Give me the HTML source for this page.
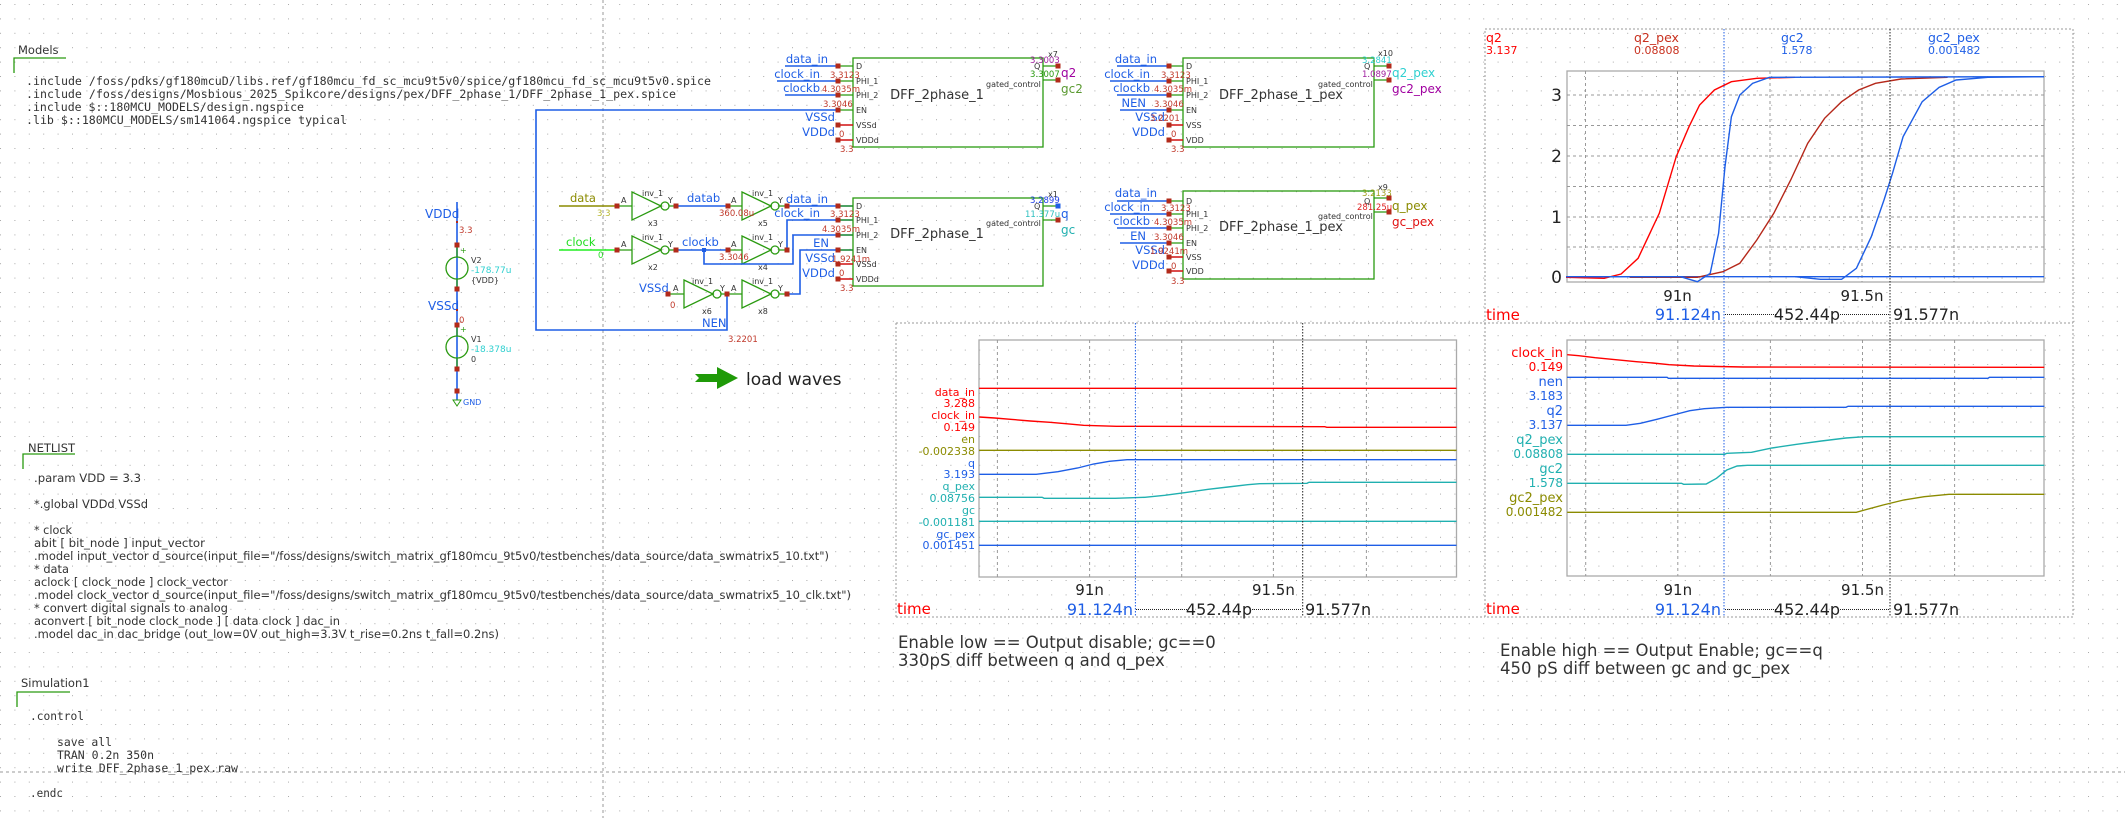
<!DOCTYPE html>
<html><head><meta charset="utf-8"><style>
html,body{margin:0;padding:0;background:#fff;}
svg{display:block;font-family:"DejaVu Sans","Liberation Sans",sans-serif;}
.m{font-family:"DejaVu Sans Mono","Liberation Mono",monospace;fill:#333;font-size:11.5px;}
.n{fill:#333;font-size:11.5px;}
.bl{fill:#1e5ee6;}
.rv{fill:#c0392b;font-size:8.5px;}
.pn{fill:#333;font-size:8px;}
.w{stroke:#1e5ee6;stroke-width:1.6;fill:none;}
.g{stroke:#2a9a10;stroke-width:1.3;fill:none;}
.gd{stroke:#999;stroke-width:1;stroke-dasharray:3,3;fill:none;}
.pd{stroke:#999;stroke-width:1;stroke-dasharray:2,2;fill:none;}
.tr{fill:none;stroke-width:1.4;}
</style></head><body>
<svg width="2125" height="818" viewBox="0 0 2125 818" xmlns="http://www.w3.org/2000/svg">
<defs>
<pattern id="dots" x="0" y="4" width="14.4" height="14.4" patternUnits="userSpaceOnUse">
<rect x="0" y="0" width="1" height="1" fill="#aaa"/></pattern>
<g id="rp"><rect x="-2.5" y="-2.5" width="5" height="5" fill="#b22a1a"/></g>
</defs>
<rect width="2125" height="818" fill="url(#dots)"/>
<line x1="603" y1="0" x2="603" y2="818" class="gd"/>
<line x1="0" y1="772" x2="2125" y2="772" class="gd"/>

<!-- Models -->
<text x="18" y="54" class="n">Models</text>
<path d="M14 73 V58 H66" class="g"/>
<text x="26" y="85" class="m" textLength="685" lengthAdjust="spacingAndGlyphs">.include /foss/pdks/gf180mcuD/libs.ref/gf180mcu_fd_sc_mcu9t5v0/spice/gf180mcu_fd_sc_mcu9t5v0.spice</text>
<text x="26" y="98" class="m" textLength="650" lengthAdjust="spacingAndGlyphs">.include /foss/designs/Mosbious_2025_Spikcore/designs/pex/DFF_2phase_1/DFF_2phase_1_pex.spice</text>
<text x="26" y="111" class="m" textLength="278" lengthAdjust="spacingAndGlyphs">.include $::180MCU_MODELS/design.ngspice</text>
<text x="26" y="124" class="m" textLength="321" lengthAdjust="spacingAndGlyphs">.lib $::180MCU_MODELS/sm141064.ngspice typical</text>

<!-- NETLIST -->
<text x="28" y="452" class="n">NETLIST</text>
<path d="M23 469 V454 H75" class="g"/>
<g class="n">
<text x="34" y="482" textLength="107" lengthAdjust="spacingAndGlyphs">.param VDD = 3.3</text>
<text x="34" y="508" textLength="114" lengthAdjust="spacingAndGlyphs">*.global VDDd VSSd</text>
<text x="34" y="534" textLength="38" lengthAdjust="spacingAndGlyphs">* clock</text>
<text x="34" y="547" textLength="171" lengthAdjust="spacingAndGlyphs">abit [ bit_node ]  input_vector</text>
<text x="34" y="560" textLength="795" lengthAdjust="spacingAndGlyphs">.model input_vector d_source(input_file="/foss/designs/switch_matrix_gf180mcu_9t5v0/testbenches/data_source/data_swmatrix5_10.txt")</text>
<text x="34" y="573" textLength="35" lengthAdjust="spacingAndGlyphs">* data</text>
<text x="34" y="586" textLength="194" lengthAdjust="spacingAndGlyphs">aclock [ clock_node ] clock_vector</text>
<text x="34" y="599" textLength="817" lengthAdjust="spacingAndGlyphs">.model clock_vector d_source(input_file="/foss/designs/switch_matrix_gf180mcu_9t5v0/testbenches/data_source/data_swmatrix5_10_clk.txt")</text>
<text x="34" y="612" textLength="194" lengthAdjust="spacingAndGlyphs">* convert digital signals to analog</text>
<text x="34" y="625" textLength="306" lengthAdjust="spacingAndGlyphs">aconvert [ bit_node clock_node ] [ data clock ] dac_in</text>
<text x="34" y="638" textLength="465" lengthAdjust="spacingAndGlyphs">.model dac_in dac_bridge (out_low=0V out_high=3.3V t_rise=0.2ns t_fall=0.2ns)</text>
</g>

<!-- Simulation1 -->
<text x="21" y="687" class="n">Simulation1</text>
<path d="M17 707 V692 H70" class="g"/>
<text x="30" y="720" class="m" textLength="54" lengthAdjust="spacingAndGlyphs">.control</text>
<text x="57" y="746" class="m" textLength="55" lengthAdjust="spacingAndGlyphs">save all</text>
<text x="57" y="759" class="m" textLength="97" lengthAdjust="spacingAndGlyphs">TRAN 0.2n 350n</text>
<text x="57" y="772" class="m" textLength="181" lengthAdjust="spacingAndGlyphs">write DFF_2phase_1_pex.raw</text>
<text x="30" y="797" class="m" textLength="33" lengthAdjust="spacingAndGlyphs">.endc</text>

<!-- Voltage sources -->
<line x1="457" y1="202" x2="457" y2="400" class="w" stroke-width="1.3"/>
<text x="425" y="218" class="bl" font-size="12">VDDd</text>
<text x="459" y="233" class="rv">3.3</text>
<circle cx="457" cy="268" r="11" fill="#fff" class="g"/>
<line x1="457" y1="246" x2="457" y2="257" class="g"/><line x1="457" y1="279" x2="457" y2="289" class="g"/>
<text x="460" y="253" fill="#2a9a10" font-size="8">+</text>
<text x="471" y="263" class="pn" font-size="9">V2</text>
<text x="471" y="273" fill="#2fd0d0" font-size="9">-178.77u</text>
<text x="471" y="283" class="pn" font-size="9">{VDD}</text>
<text x="428" y="310" class="bl" font-size="12">VSSd</text>
<text x="459" y="323" class="rv">0</text>
<circle cx="457" cy="347" r="11" fill="#fff" class="g"/>
<line x1="457" y1="325" x2="457" y2="336" class="g"/><line x1="457" y1="358" x2="457" y2="369" class="g"/>
<text x="460" y="332" fill="#2a9a10" font-size="8">+</text>
<text x="471" y="342" class="pn" font-size="9">V1</text>
<text x="471" y="352" fill="#2fd0d0" font-size="9">-18.378u</text>
<text x="471" y="362" class="pn" font-size="9">0</text>
<use href="#rp" x="457" y="245"/><use href="#rp" x="457" y="289"/><use href="#rp" x="457" y="325"/><use href="#rp" x="457" y="369"/><use href="#rp" x="457" y="391"/>
<rect x="456" y="221" width="2" height="2" fill="#b22a1a"/><rect x="456" y="309" width="2" height="2" fill="#b22a1a"/>
<path d="M453 400 L461 400 L457 406 Z" fill="none" stroke="#2a9a10"/>
<text x="463" y="405" class="bl" font-size="8">GND</text>

<!-- Big NEN/EN loop wire -->
<path d="M838 110 H536 V330 H727 V294" class="w"/>
<text x="702" y="327" class="bl" font-size="11.5">NEN</text>
<text x="728" y="342" class="rv">3.2201</text>

<!-- input wires -->
<line x1="559" y1="206" x2="617" y2="206" stroke="#8b8b00" stroke-width="1.6"/>
<text x="570" y="202" fill="#8b8b00" font-size="11.5">data</text>
<text x="597" y="216" fill="#b8b830" font-size="8.5">3.3</text>
<line x1="559" y1="250" x2="617" y2="250" stroke="#22ee22" stroke-width="1.6"/>
<text x="566" y="246" fill="#22dd22" font-size="11.5">clock</text>
<text x="598" y="258" fill="#22dd22" font-size="8.5">0</text>

<g class="g" fill="#fff">
<path d="M617 206 H632 M632 192 L661 206 L632 220 Z M669 206 H676"/><circle cx="665" cy="206" r="4"/>
<path d="M728 206 H742 M742 192 L771 206 L742 220 Z M779 206 H787"/><circle cx="775" cy="206" r="4"/>
<path d="M617 250 H632 M632 236 L661 250 L632 264 Z M669 250 H676"/><circle cx="665" cy="250" r="4"/>
<path d="M728 250 H742 M742 236 L771 250 L742 264 Z M779 250 H787"/><circle cx="775" cy="250" r="4"/>
<path d="M668 294 H684 M684 280 L713 294 L684 308 Z M721 294 H727"/><circle cx="717" cy="294" r="4"/>
<path d="M727 294 H742 M742 280 L771 294 L742 308 Z M779 294 H787"/><circle cx="775" cy="294" r="4"/>
</g>
<g class="pn">
<text x="642" y="196">inv_1</text><text x="752" y="196">inv_1</text>
<text x="642" y="240">inv_1</text><text x="752" y="240">inv_1</text>
<text x="692" y="284">inv_1</text><text x="752" y="284">inv_1</text>
<text x="648" y="226">x3</text><text x="758" y="226">x5</text>
<text x="648" y="270">x2</text><text x="758" y="270">x4</text>
<text x="702" y="314">x6</text><text x="758" y="314">x8</text>
<text x="621" y="203">A</text><text x="668" y="203">Y</text><text x="731" y="203">A</text><text x="778" y="203">Y</text>
<text x="621" y="247">A</text><text x="668" y="247">Y</text><text x="731" y="247">A</text><text x="778" y="247">Y</text>
<text x="673" y="291">A</text><text x="720" y="291">Y</text><text x="731" y="291">A</text><text x="778" y="291">Y</text>
</g>
<path d="M676 206 H728 M787 206 H853 M676 250 H728 M704 250 V264 H793 V235 H853 M787 250 V220 H853 M787 294 H800 V250 H853" class="w"/>
<rect x="702" y="248" width="4" height="4" fill="#1e5ee6"/>
<text x="687" y="202" class="bl" font-size="11.5">datab</text>
<text x="719" y="216" class="rv">360.08u</text>
<text x="682" y="246" class="bl" font-size="11.5">clockb</text>
<text x="719" y="260" class="rv">3.3046</text>
<text x="639" y="292" class="bl" font-size="11.5">VSSd</text>
<text x="670" y="308" class="rv">0</text>
<use href="#rp" x="617" y="206"/><use href="#rp" x="676" y="206"/><use href="#rp" x="728" y="206"/><use href="#rp" x="787" y="206"/>
<use href="#rp" x="617" y="250"/><use href="#rp" x="676" y="250"/><use href="#rp" x="728" y="250"/><use href="#rp" x="787" y="250"/>
<use href="#rp" x="668" y="294"/><use href="#rp" x="727" y="294"/><use href="#rp" x="787" y="294"/>

<!-- DFF x7 (top) -->
<rect x="853" y="58" width="190" height="89" class="g"/>
<path d="M785 66 H838 M777 81 H838 M785 95 H838" class="w"/>
<path d="M838 66 H853 M838 81 H853 M838 95 H853 M838 110 H853" class="g"/>
<path d="M838 125 H853 M838 140 H853" stroke="#d01010" stroke-width="1.5"/>
<use href="#rp" x="838" y="66"/><use href="#rp" x="838" y="81"/><use href="#rp" x="838" y="95"/><use href="#rp" x="838" y="110"/><use href="#rp" x="838" y="125"/><use href="#rp" x="838" y="140"/>
<g class="bl" font-size="11.5" text-anchor="end"><text x="828" y="63">data_in</text><text x="820" y="78">clock_in</text><text x="820" y="92">clockb</text><text x="835" y="121">VSSd</text><text x="835" y="136">VDDd</text></g>
<g class="rv"><text x="830" y="78">3.3123</text><text x="822" y="92">4.3035m</text><text x="823" y="107">3.3046</text><text x="839" y="137">0</text><text x="840" y="152">3.3</text></g>
<g class="pn"><text x="856" y="69">D</text><text x="856" y="84">PHI_1</text><text x="856" y="98">PHI_2</text><text x="856" y="113">EN</text><text x="856" y="128">VSSd</text><text x="856" y="143">VDDd</text><text x="1034" y="69">Q</text><text x="986" y="87">gated_control</text></g>
<text x="937" y="99" text-anchor="middle" fill="#333" font-size="13">DFF_2phase_1</text>
<path d="M1043 66 H1058 M1043 80 H1058" class="g"/>
<use href="#rp" x="1058" y="66"/><use href="#rp" x="1058" y="80"/>
<text x="1048" y="57" class="pn">x7</text>
<text x="1030" y="63" fill="#a020a0" font-size="8.5">3.3003</text>
<text x="1030" y="77" fill="#2a9a10" font-size="8.5">3.3007</text>
<text x="1061" y="77" fill="#a000a0" font-size="12">q2</text>
<text x="1061" y="93" fill="#5a9a30" font-size="12">gc2</text>

<!-- DFF x10 pex (top) -->
<rect x="1183" y="58" width="191" height="89" class="g"/>
<path d="M1117 66 H1169 M1110 81 H1169 M1117 95 H1169 M1120 110 H1169" class="w"/>
<path d="M1169 66 H1183 M1169 81 H1183 M1169 95 H1183 M1169 110 H1183" class="g"/>
<path d="M1169 125 H1183 M1169 140 H1183" stroke="#d01010" stroke-width="1.5"/>
<use href="#rp" x="1169" y="66"/><use href="#rp" x="1169" y="81"/><use href="#rp" x="1169" y="95"/><use href="#rp" x="1169" y="110"/><use href="#rp" x="1169" y="125"/><use href="#rp" x="1169" y="140"/>
<g class="bl" font-size="11.5" text-anchor="end"><text x="1157" y="63">data_in</text><text x="1150" y="78">clock_in</text><text x="1150" y="92">clockb</text><text x="1146" y="107">NEN</text><text x="1165" y="121">VSSd</text><text x="1165" y="136">VDDd</text></g>
<g class="rv"><text x="1161" y="78">3.3123</text><text x="1154" y="92">4.3035m</text><text x="1154" y="107">3.3046</text><text x="1150" y="121">3.2201</text><text x="1171" y="137">0</text><text x="1171" y="152">3.3</text></g>
<g class="pn"><text x="1186" y="69">D</text><text x="1186" y="84">PHI_1</text><text x="1186" y="98">PHI_2</text><text x="1186" y="113">EN</text><text x="1186" y="128">VSS</text><text x="1186" y="143">VDD</text><text x="1364" y="69">Q</text><text x="1318" y="87">gated_control</text></g>
<text x="1281" y="99" text-anchor="middle" fill="#333" font-size="13">DFF_2phase_1_pex</text>
<path d="M1374 66 H1389 M1374 80 H1389" class="g"/>
<use href="#rp" x="1389" y="66"/><use href="#rp" x="1389" y="80"/>
<text x="1378" y="56" class="pn">x10</text>
<text x="1362" y="63" fill="#2fd0d0" font-size="8.5">3.2841</text>
<text x="1362" y="77" fill="#a020a0" font-size="8.5">1.0897</text>
<text x="1392" y="77" fill="#2fd0d0" font-size="12">q2_pex</text>
<text x="1392" y="93" fill="#a000a0" font-size="12">gc2_pex</text>

<!-- DFF x1 (bottom) -->
<rect x="853" y="198" width="190" height="88" class="g"/>
<path d="M838 206 H853 M838 220 H853 M838 235 H853 M838 250 H853" class="g"/>
<path d="M838 264 H853 M838 279 H853" stroke="#d01010" stroke-width="1.5"/>
<use href="#rp" x="838" y="206"/><use href="#rp" x="838" y="220"/><use href="#rp" x="838" y="235"/><use href="#rp" x="838" y="250"/><use href="#rp" x="838" y="264"/><use href="#rp" x="838" y="279"/>
<g class="bl" font-size="11.5" text-anchor="end"><text x="828" y="203">data_in</text><text x="820" y="217">clock_in</text><text x="829" y="247">EN</text><text x="835" y="262">VSSd</text><text x="835" y="277">VDDd</text></g>
<g class="rv"><text x="830" y="217">3.3123</text><text x="822" y="232">4.3035m</text><text x="832" y="262">1.9241m</text><text x="839" y="276">0</text><text x="840" y="291">3.3</text></g>
<g class="pn"><text x="856" y="209">D</text><text x="856" y="223">PHI_1</text><text x="856" y="238">PHI_2</text><text x="856" y="253">EN</text><text x="856" y="267">VSSd</text><text x="856" y="282">VDDd</text><text x="1034" y="209">Q</text><text x="986" y="226">gated_control</text></g>
<text x="937" y="238" text-anchor="middle" fill="#333" font-size="13">DFF_2phase_1</text>
<path d="M1043 206 H1058 M1043 220 H1058" class="g"/>
<rect x="1055.5" y="203.5" width="5" height="5" fill="#1e5ee6"/><use href="#rp" x="1058" y="220"/>
<text x="1048" y="197" class="pn">x1</text>
<text x="1030" y="203" fill="#1e3ee6" font-size="8.5">3.2899</text>
<text x="1025" y="217" fill="#2fc0c0" font-size="8.5">11.377u</text>
<text x="1061" y="218" fill="#1e5ee6" font-size="12">q</text>
<text x="1061" y="234" fill="#20b0b0" font-size="12">gc</text>

<!-- DFF x9 pex (bottom) -->
<rect x="1183" y="191" width="191" height="88" class="g"/>
<path d="M1117 201 H1169 M1110 214 H1169 M1117 228 H1169 M1120 243 H1169" class="w"/>
<path d="M1169 201 H1183 M1169 214 H1183 M1169 228 H1183 M1169 243 H1183" class="g"/>
<path d="M1169 257 H1183 M1169 271 H1183" stroke="#d01010" stroke-width="1.5"/>
<use href="#rp" x="1169" y="201"/><use href="#rp" x="1169" y="214"/><use href="#rp" x="1169" y="228"/><use href="#rp" x="1169" y="243"/><use href="#rp" x="1169" y="257"/><use href="#rp" x="1169" y="271"/>
<g class="bl" font-size="11.5" text-anchor="end"><text x="1157" y="197">data_in</text><text x="1150" y="211">clock_in</text><text x="1150" y="225">clockb</text><text x="1146" y="240">EN</text><text x="1165" y="254">VSSd</text><text x="1165" y="269">VDDd</text></g>
<g class="rv"><text x="1161" y="211">3.3123</text><text x="1154" y="225">4.3035m</text><text x="1154" y="240">3.3046</text><text x="1150" y="254">1.9241m</text><text x="1171" y="269">0</text><text x="1171" y="284">3.3</text></g>
<g class="pn"><text x="1186" y="204">D</text><text x="1186" y="217">PHI_1</text><text x="1186" y="231">PHI_2</text><text x="1186" y="246">EN</text><text x="1186" y="260">VSS</text><text x="1186" y="274">VDD</text><text x="1364" y="204">Q</text><text x="1318" y="219">gated_control</text></g>
<text x="1281" y="231" text-anchor="middle" fill="#333" font-size="13">DFF_2phase_1_pex</text>
<path d="M1374 198 H1389 M1374 212 H1389" class="g"/>
<use href="#rp" x="1389" y="198"/><use href="#rp" x="1389" y="212"/>
<text x="1378" y="190" class="pn">x9</text>
<text x="1362" y="196" fill="#a0a020" font-size="8.5">3.2133</text>
<text x="1357" y="210" fill="#e02020" font-size="8.5">281.25u</text>
<text x="1392" y="210" fill="#8b8b00" font-size="12">q_pex</text>
<text x="1392" y="226" fill="#e01010" font-size="12">gc_pex</text>

<!-- load waves -->
<path d="M695 374 H717 V367 L738 378 L717 389 V382 H695 L699 378 Z" fill="#1f9a08"/>
<text x="746" y="385" fill="#222" font-size="17">load waves</text>

<!-- ===== Top-right waveform panel ===== -->
<rect x="1485" y="29" width="588" height="588" class="pd"/>
<line x1="896" y1="323" x2="2073" y2="323" class="pd"/>
<line x1="896" y1="323" x2="896" y2="617" class="pd"/>
<line x1="896" y1="617" x2="1485" y2="617" class="pd"/>
<g font-size="12.5">
<text x="1486" y="42" fill="#f00">q2</text><text x="1486" y="54" fill="#f00" font-size="11">3.137</text>
<text x="1634" y="42" fill="#c8301e">q2_pex</text><text x="1634" y="54" fill="#c8301e" font-size="11">0.08808</text>
<text x="1781" y="42" fill="#1e5ee6">gc2</text><text x="1781" y="54" fill="#1e5ee6" font-size="11">1.578</text>
<text x="1928" y="42" fill="#1e5ee6">gc2_pex</text><text x="1928" y="54" fill="#1e5ee6" font-size="11">0.001482</text>
</g>
<rect x="1567" y="71" width="477" height="211" fill="none" stroke="#aaa" stroke-width="1.3"/>
<g class="gd" stroke="#aaa">
<path d="M1567 95 H2044 M1567 125.5 H2044 M1567 156 H2044 M1567 186.5 H2044 M1567 217 H2044 M1567 247 H2044"/>
<path d="M1585.5 71 V282 M1677.5 71 V282 M1770 71 V282 M1862 71 V282 M1954 71 V282"/>
</g>
<g font-size="17" fill="#222" text-anchor="end"><text x="1562" y="101">3</text><text x="1562" y="162">2</text><text x="1562" y="223">1</text><text x="1562" y="283">0</text></g>
<line x1="1567" y1="276.7" x2="2044" y2="276.7" stroke="#1e5ee6" stroke-width="1.4"/>
<polyline class="tr" stroke="#ff0000" points="1566,277.3 1604.2,278.3 1621.1,274 1638.1,258.3 1659.3,213.3 1676.2,156.7 1689,126.7 1699.6,105 1714.4,90 1731.4,81.7 1756.8,78.3 1795,77.3"/>
<polyline class="tr" stroke="#b5281a" points="1629.6,277.3 1697.4,277.3 1722.9,271.7 1739.8,263.3 1756.8,240 1773.8,213.3 1790.7,180 1807.7,143.3 1824.6,118.3 1841.6,101.7 1858.6,90 1875.5,83.3 1901,79 1947.6,77.3"/>
<polyline class="tr" stroke="#1e5ee6" points="1566,276.7 1680.5,276.7 1697.4,281.7 1710.2,273.3 1718.6,233.3 1725,166.7 1731.4,116.7 1739.8,95 1752.6,83.3 1769.5,77.3 2044,76.7"/>
<polyline class="tr" stroke="#1e5ee6" points="1795,276.7 1820.4,279.3 1841.6,279.3 1856.4,268.3 1871.3,236.7 1884,200 1892.5,173.3 1903.1,136.7 1922.2,101.7 1939.1,87.3 1956.1,80 1987.9,77.3 2044,76.7"/>
<line x1="1724" y1="29" x2="1724" y2="617" stroke="#1e5ee6" stroke-width="1" stroke-dasharray="1.5,1.5"/>
<line x1="1890" y1="29" x2="1890" y2="617" stroke="#222" stroke-width="1" stroke-dasharray="1.5,1.5"/>
<g font-size="15" fill="#222" text-anchor="middle"><text x="1677.5" y="301">91n</text><text x="1862" y="301">91.5n</text></g>
<text x="1486" y="320" fill="#f00" font-size="15">time</text>
<text x="1721" y="320" fill="#1e5ee6" font-size="16" text-anchor="end">91.124n</text>
<text x="1807" y="320" fill="#222" font-size="16" text-anchor="middle">452.44p</text>
<text x="1893" y="320" fill="#222" font-size="16">91.577n</text>
<path d="M1725 314.5 H1777 M1838 314.5 H1889" stroke="#222" stroke-dasharray="1,1"/>

<!-- ===== Bottom-left panel ===== -->
<rect x="979" y="340" width="477.5" height="237" fill="none" stroke="#aaa" stroke-width="1.3"/>
<g class="gd" stroke="#aaa"><path d="M997.4 340 V577 M1089.6 340 V577 M1181.7 340 V577 M1273.4 340 V577 M1366.4 340 V577"/></g>
<g font-size="11" text-anchor="end">
<text x="975" y="396" fill="#f00">data_in</text><text x="975" y="407" fill="#f00">3.288</text>
<text x="975" y="419" fill="#f00">clock_in</text><text x="975" y="431" fill="#f00">0.149</text>
<text x="975" y="443" fill="#8b8b00">en</text><text x="975" y="455" fill="#8b8b00">-0.002338</text>
<text x="975" y="467" fill="#1e5ee6">q</text><text x="975" y="478" fill="#1e5ee6">3.193</text>
<text x="975" y="490" fill="#20b0b0">q_pex</text><text x="975" y="502" fill="#20b0b0">0.08756</text>
<text x="975" y="514" fill="#20b0b0">gc</text><text x="975" y="526" fill="#20b0b0">-0.001181</text>
<text x="975" y="538" fill="#1e5ee6">gc_pex</text><text x="975" y="549" fill="#1e5ee6">0.001451</text>
</g>
<line x1="979" y1="388.3" x2="1456.5" y2="388.3" stroke="#f00" stroke-width="1.4"/>
<polyline class="tr" stroke="#f00" points="979.2,417 994.7,418 1010.5,419.3 1030.3,421 1050,422.3 1065.8,423.7 1083.6,425.3 1116.4,426.3 1324.8,426.7 1326.8,427.3 1456.5,427.3"/>
<line x1="979" y1="450.3" x2="1456.5" y2="450.3" stroke="#8b8b00" stroke-width="1.4"/>
<polyline class="tr" stroke="#1e5ee6" points="979.2,474.3 1036.2,474.3 1057.9,471.7 1077.7,468 1093.5,464 1109.3,461.3 1127.1,459.7 1456.5,459.7"/>
<polyline class="tr" stroke="#20b0b0" points="979.2,497.3 1042.1,497.3 1044.1,498.3 1115.3,498.3 1144.9,497.3 1164.7,495.3 1184.5,492.7 1208.2,489.3 1228,487 1247.7,484.7 1259.6,483.7 1307,483.3 1309,482.3 1456.5,482.3"/>
<line x1="979" y1="521.3" x2="1456.5" y2="521.3" stroke="#20b0b0" stroke-width="1.4"/>
<line x1="979" y1="545.3" x2="1456.5" y2="545.3" stroke="#1e5ee6" stroke-width="1.4"/>
<line x1="1135.4" y1="323" x2="1135.4" y2="617" stroke="#1e5ee6" stroke-width="1" stroke-dasharray="1.5,1.5"/>
<line x1="1302.7" y1="323" x2="1302.7" y2="617" stroke="#222" stroke-width="1" stroke-dasharray="1.5,1.5"/>
<g font-size="15" fill="#222" text-anchor="middle"><text x="1089.6" y="595">91n</text><text x="1273.4" y="595">91.5n</text></g>
<text x="897" y="614" fill="#f00" font-size="15">time</text>
<text x="1133" y="615" fill="#1e5ee6" font-size="16" text-anchor="end">91.124n</text>
<text x="1219" y="615" fill="#222" font-size="16" text-anchor="middle">452.44p</text>
<text x="1305" y="615" fill="#222" font-size="16">91.577n</text>
<path d="M1136 609.5 H1188 M1250 609.5 H1302" stroke="#222" stroke-dasharray="1,1"/>
<text x="898" y="648" fill="#333" font-size="16.5">Enable low == Output disable; gc==0</text>
<text x="898" y="666" fill="#333" font-size="16.5">330pS diff between q and q_pex</text>

<!-- ===== Bottom-right panel ===== -->
<rect x="1567" y="340" width="477" height="236" fill="none" stroke="#aaa" stroke-width="1.3"/>
<g class="gd" stroke="#aaa"><path d="M1585.7 340 V576 M1677.8 340 V576 M1770.4 340 V576 M1862.5 340 V576 M1954.6 340 V576"/></g>
<g font-size="13" text-anchor="end">
<text x="1563" y="357" fill="#f00">clock_in</text><text x="1563" y="371" fill="#f00" font-size="12">0.149</text>
<text x="1563" y="386" fill="#1e5ee6">nen</text><text x="1563" y="400" fill="#1e5ee6" font-size="12">3.183</text>
<text x="1563" y="415" fill="#1e5ee6">q2</text><text x="1563" y="429" fill="#1e5ee6" font-size="12">3.137</text>
<text x="1563" y="444" fill="#20b0b0">q2_pex</text><text x="1563" y="458" fill="#20b0b0" font-size="12">0.08808</text>
<text x="1563" y="473" fill="#20b0b0">gc2</text><text x="1563" y="487" fill="#20b0b0" font-size="12">1.578</text>
<text x="1563" y="502" fill="#8b8b00">gc2_pex</text><text x="1563" y="516" fill="#8b8b00" font-size="12">0.001482</text>
</g>
<polyline class="tr" stroke="#f00" points="1567.2,354.7 1578.7,355.7 1595.2,357.7 1615.7,359.7 1636.3,361.7 1652.7,363 1669.2,364.7 1693.9,366 1743.2,367 2044.3,367.3"/>
<polyline class="tr" stroke="#1e5ee6" points="1567,377.3 1667.1,377.3 1668.4,378.3 1988,378.3 1989.4,377.3 2044.3,377.3"/>
<polyline class="tr" stroke="#1e5ee6" points="1567.2,425.3 1626,425.3 1640.4,423.3 1656.9,419.3 1673.3,415 1689.8,410.7 1704.2,408.7 1726.8,407.3 1846,407.3 1848.1,406.3 2044.3,406.3"/>
<polyline class="tr" stroke="#20b0b0" points="1567.2,454.3 1724.7,454.3 1726.8,453.3 1751.5,452.3 1772,448 1796.7,444.3 1821.4,441 1846,438 1864.6,436.7 2044.3,436.7"/>
<polyline class="tr" stroke="#20b0b0" points="1567.2,483.3 1681.5,483.3 1683.6,484.3 1706.2,484 1716.5,478.3 1726.8,470 1737.1,466 1747.3,465.3 2044.3,465.3"/>
<polyline class="tr" stroke="#8b8b00" points="1567.2,512.3 1856.3,512.3 1864.6,510 1883.1,505 1903.6,500 1924.2,496.7 1948.9,494.3 2044.3,494.3"/>
<g font-size="15" fill="#222" text-anchor="middle"><text x="1677.8" y="595">91n</text><text x="1862.5" y="595">91.5n</text></g>
<text x="1486" y="614" fill="#f00" font-size="15">time</text>
<text x="1721" y="615" fill="#1e5ee6" font-size="16" text-anchor="end">91.124n</text>
<text x="1807" y="615" fill="#222" font-size="16" text-anchor="middle">452.44p</text>
<text x="1893" y="615" fill="#222" font-size="16">91.577n</text>
<path d="M1725 609.5 H1777 M1838 609.5 H1889" stroke="#222" stroke-dasharray="1,1"/>
<text x="1500" y="656" fill="#333" font-size="16.5">Enable high == Output Enable; gc==q</text>
<text x="1500" y="674" fill="#333" font-size="16.5">450 pS diff between gc and gc_pex</text>
</svg>
</body></html>
